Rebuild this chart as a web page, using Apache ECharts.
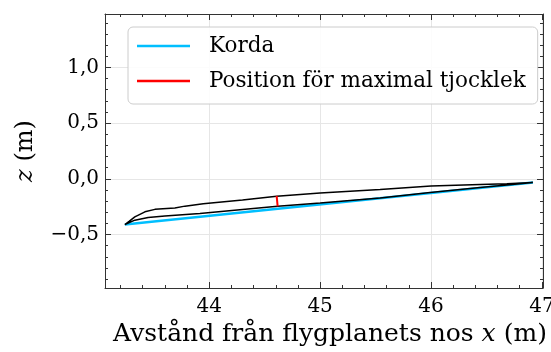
<!DOCTYPE html>
<html>
<head>
<meta charset="utf-8">
<script src="https://cdn.jsdelivr.net/npm/echarts@6/dist/echarts.min.js"></script>
<style>
  html, body { margin: 0; padding: 0; background: #fff; }
  #chart { width: 551px; height: 352px; }
</style>
</head>
<body>
<div id="chart"></div>
<script>
// profile outline: upper surface TE -> LE, then lower surface LE -> TE
const profileUpper = [
  [46.919, -0.032], [46.684, -0.044], [46.443, -0.050], [46.0, -0.065], [45.541, -0.095],
  [45.0, -0.128], [44.608, -0.156], [44.3, -0.19], [43.946, -0.224], [43.781, -0.245],
  [43.69, -0.261], [43.51, -0.274], [43.42, -0.296], [43.329, -0.342], [43.28, -0.38], [43.239, -0.410]
];
const profileLower = [
  [43.239, -0.410], [43.329, -0.371], [43.449, -0.347], [43.6, -0.333], [43.916, -0.311],
  [44.3, -0.276], [44.617, -0.247], [45.0, -0.217], [45.541, -0.171], [45.992, -0.122],
  [46.443, -0.078], [46.684, -0.056], [46.919, -0.032]
];
const chord = [[43.239, -0.410], [46.919, -0.032]];
const maxThickness = [[44.608, -0.153], [44.617, -0.248]];

const xMajor = [44, 45, 46, 47];
const xMinor = [43.2, 43.4, 43.6, 43.8, 44.2, 44.4, 44.6, 44.8, 45.2, 45.4, 45.6, 45.8,
  46.2, 46.4, 46.6, 46.8];
const yMajor = [-0.5, 0.0, 0.5, 1.0];
const yMinor = [-0.9, -0.8, -0.7, -0.6, -0.4, -0.3, -0.2, -0.1, 0.1, 0.2, 0.3, 0.4,
  0.6, 0.7, 0.8, 0.9, 1.1, 1.2, 1.3, 1.4];

const xRange = [43.06, 47.01];
const yRange = [-0.98, 1.48];

const serif = 'DejaVu Serif';
const spine = '#333';

const chart = echarts.init(document.getElementById('chart'), null, { renderer: 'canvas' });

const fmtY = (v) => v.toFixed(1).replace('.', ',').replace('-', '\u2212');

// ticks only, no line, no labels (used for minor ticks and the mirrored sides)
const tickAxis = (position, range, values, len, withLine) => ({
  type: 'value', position, min: range[0], max: range[1],
  axisLine: { show: withLine, onZero: false, lineStyle: { color: spine, width: 1 } },
  axisLabel: { show: false }, splitLine: { show: false },
  axisTick: { show: true, inside: true, length: len, customValues: values, lineStyle: { color: spine } }
});

const xAxes = [
  {
    type: 'value', position: 'bottom', min: xRange[0], max: xRange[1],
    name: 'Avstånd från flygplanets nos {i|x} (m)', nameLocation: 'middle', nameGap: 28,
    nameTextStyle: { fontFamily: serif, fontSize: 25, color: '#000', padding: [0, 0, 0, 12], rich: { i: { fontFamily: serif, fontStyle: 'italic', fontSize: 25 } } },
    axisLine: { show: true, onZero: false, lineStyle: { color: spine, width: 1 } },
    axisTick: { show: true, inside: true, length: 6, customValues: xMajor, lineStyle: { color: spine } },
    axisLabel: { customValues: xMajor, margin: 9, fontFamily: serif, fontSize: 20, color: '#000', formatter: (v) => String(v) },
    splitLine: { show: true, lineStyle: { color: '#e6e6e6', width: 1 } }
  },
  tickAxis('bottom', xRange, xMinor, 3, false),
  tickAxis('top', xRange, xMajor, 6, true),
  tickAxis('top', xRange, xMinor, 3, false)
];

const yAxes = [
  {
    type: 'value', position: 'left', min: yRange[0], max: yRange[1],
    name: '{i|z} (m)', nameLocation: 'middle', nameGap: 67, nameRotate: 90,
    nameTextStyle: { fontFamily: serif, fontSize: 24, color: '#000', rich: { i: { fontFamily: serif, fontStyle: 'italic', fontSize: 24 } } },
    axisLine: { show: true, onZero: false, lineStyle: { color: spine, width: 1 } },
    axisTick: { show: true, inside: true, length: 6, customValues: yMajor, lineStyle: { color: spine } },
    axisLabel: { customValues: yMajor, margin: 6, fontFamily: serif, fontSize: 20, color: '#000', formatter: fmtY },
    splitLine: { show: true, lineStyle: { color: '#e6e6e6', width: 1 } }
  },
  tickAxis('left', yRange, yMinor, 3, false),
  tickAxis('right', yRange, yMajor, 6, true),
  tickAxis('right', yRange, yMinor, 3, false)
];

chart.setOption({
  animation: false,
  grid: { left: 105, right: 8, top: 14, bottom: 64, containLabel: false, outerBoundsMode: 'none' },
  xAxis: xAxes,
  yAxis: yAxes,
  legend: {
    data: ['Korda', 'Position för maximal tjocklek'],
    orient: 'vertical',
    left: 128, top: 27,
    icon: 'rect', itemWidth: 53, itemHeight: 2.5, itemGap: 9,
    padding: [6, 12, 10, 9],
    backgroundColor: 'rgba(255,255,255,0.85)',
    borderColor: '#cccccc', borderWidth: 1, borderRadius: 5,
    textStyle: { fontFamily: serif, fontSize: 21.5, color: '#000', lineHeight: 26, padding: [0, 0, 0, 14] }
  },
  series: [
    {
      name: 'Korda', type: 'line', data: chord, symbol: 'none',
      lineStyle: { color: '#00BFFF', width: 2.5 }, itemStyle: { color: '#00BFFF' }, z: 2
    },
    {
      name: 'Profil', type: 'line', data: profileUpper.concat(profileLower), symbol: 'none',
      lineStyle: { color: '#000', width: 1.5 }, itemStyle: { color: '#000' }, z: 3
    },
    {
      name: 'Position för maximal tjocklek', type: 'line', data: maxThickness, symbol: 'none',
      lineStyle: { color: '#ff0000', width: 2 }, itemStyle: { color: '#ff0000' }, z: 4
    }
  ]
});
</script>
</body>
</html>
